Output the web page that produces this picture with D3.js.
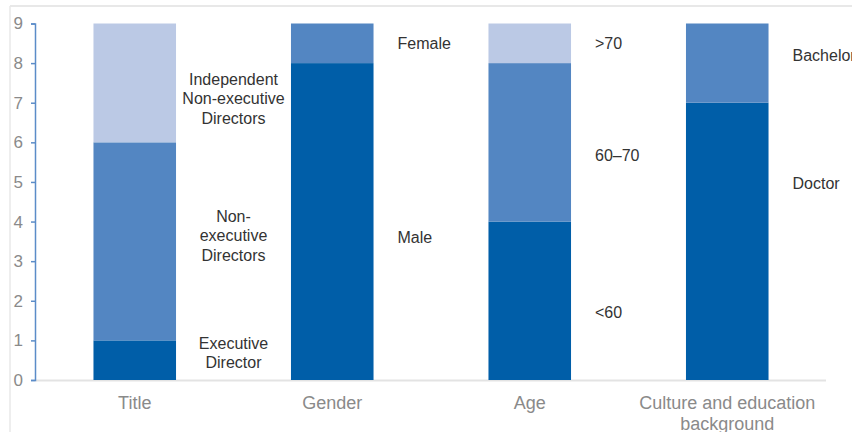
<!DOCTYPE html>
<html><head><meta charset="utf-8">
<script src="https://cdn.jsdelivr.net/npm/d3@7"></script>
<style>html,body{margin:0;padding:0;background:#fff;overflow:hidden}svg{display:block}</style>
</head><body>
<svg id="chart" width="852" height="432"></svg>
<script>
// ---- data ----
const categories = ["Title", "Gender", "Age", "Culture and education background"];
const level1 = [1, 8, 4, 7];   // bottom segment
const level2 = [5, 1, 4, 2];   // middle segment
const level3 = [3, 0, 1, 0];   // top segment
const level1Names = ["Executive\nDirector", "Male", "<60", "Doctor"];
const level2Names = ["Non-\nexecutive\nDirectors", "Female", "60–70", "Bachelor"];
const level3Names = ["Independent\nNon-executive\nDirectors", "", ">70", ""];
// annotation anchor, in value units
const level1LabelAt = [0.68, 3.6, 1.7, 4.97];
const level2LabelAt = [3.64, 8.5, 5.66, 8.2];
const level3LabelAt = [7.1, null, 8.5, null];
const yTicks = [0, 1, 2, 3, 4, 5, 6, 7, 8, 9];

const colors = ["#005EA8", "#5386C2", "#BBC9E5"];
const font = "'Liberation Sans', Arial, Helvetica, sans-serif";

const svg = d3.select("#chart");
const W = 852, H = 432;
const plot = {left: 36, right: 826, top: 23.5, bottom: 380};

const x = d3.scaleBand().domain(categories).range([plot.left, plot.right]).padding(0);
const y = d3.scaleLinear().domain([0, 9]).range([plot.bottom, plot.top]);
const barW = x.bandwidth() * 0.418;

// frame lines
svg.append("line").attr("x1", 10).attr("x2", W).attr("y1", 6).attr("y2", 6)
  .attr("stroke", "#e8e8e8").attr("stroke-width", 2);
svg.append("line").attr("x1", 10).attr("x2", 10).attr("y1", 6).attr("y2", H)
  .attr("stroke", "#e8e8e8").attr("stroke-width", 1.5);

// stacked data
const rows = categories.map((c, i) => ({cat: c, l1: level1[i], l2: level2[i], l3: level3[i]}));
const stack = d3.stack().keys(["l1", "l2", "l3"]);
const series = stack(rows);

// x baseline
svg.append("line").attr("x1", 35).attr("x2", plot.right).attr("y1", y(0) + 0.5).attr("y2", y(0) + 0.5)
  .attr("stroke", "#e3e3e3").attr("stroke-width", 2);

series.forEach((s, k) => {
  svg.append("g").selectAll("rect").data(s.filter(d => d[1] - d[0] > 0)).join("rect")
    .attr("x", d => x(d.data.cat) + (x.bandwidth() - barW) / 2)
    .attr("width", barW)
    .attr("y", d => y(d[1]))
    .attr("height", d => y(d[0]) - y(d[1]))
    .attr("fill", colors[k]);
});

// y axis
const yAxis = d3.axisLeft(y).tickValues(yTicks).tickSize(4).tickPadding(8);
const ga = svg.append("g").attr("transform", "translate(35,0)").call(yAxis);
ga.select(".domain").attr("stroke", "#5B8CC8").attr("stroke-width", 1.5);
ga.selectAll(".tick line").attr("stroke", "#5B8CC8").attr("stroke-width", 1.5);
ga.selectAll(".tick text").attr("fill", "#8a8a8a").style("font-family", font).style("font-size", "17px");

// category labels
categories.forEach(c => {
  const words = c === "Culture and education background" ? ["Culture and education", "background"] : [c];
  const t = svg.append("text").attr("x", x(c) + x.bandwidth() / 2).attr("y", 409)
    .attr("text-anchor", "middle").attr("fill", "#8a8a8a")
    .style("font-family", font).style("font-size", "18px");
  words.forEach((w, i) => t.append("tspan").attr("x", x(c) + x.bandwidth() / 2).attr("dy", i ? 21 : 0).text(w));
});

// segment annotations
const allNames = [level1Names, level2Names, level3Names];
const allAt = [level1LabelAt, level2LabelAt, level3LabelAt];
allNames.forEach((names, k) => {
  names.forEach((nm, i) => {
    if (!nm) return;
    const lines = nm.split("\n");
    const c = categories[i];
    const multi = lines.length > 1;
    const cx = multi ? x(c) + x.bandwidth() : x(c) + (x.bandwidth() + barW) / 2 + 24;
    const lh = 19.5;
    const yc = y(allAt[k][i]);
    const t = svg.append("text").attr("text-anchor", multi ? "middle" : "start")
      .attr("fill", "#333").style("font-family", font).style("font-size", "16px");
    lines.forEach((ln, j) => {
      t.append("tspan").attr("x", cx)
        .attr("y", yc + (j - (lines.length - 1) / 2) * lh)
        .attr("dy", "0.35em").text(ln);
    });
  });
});
</script>
</body></html>
